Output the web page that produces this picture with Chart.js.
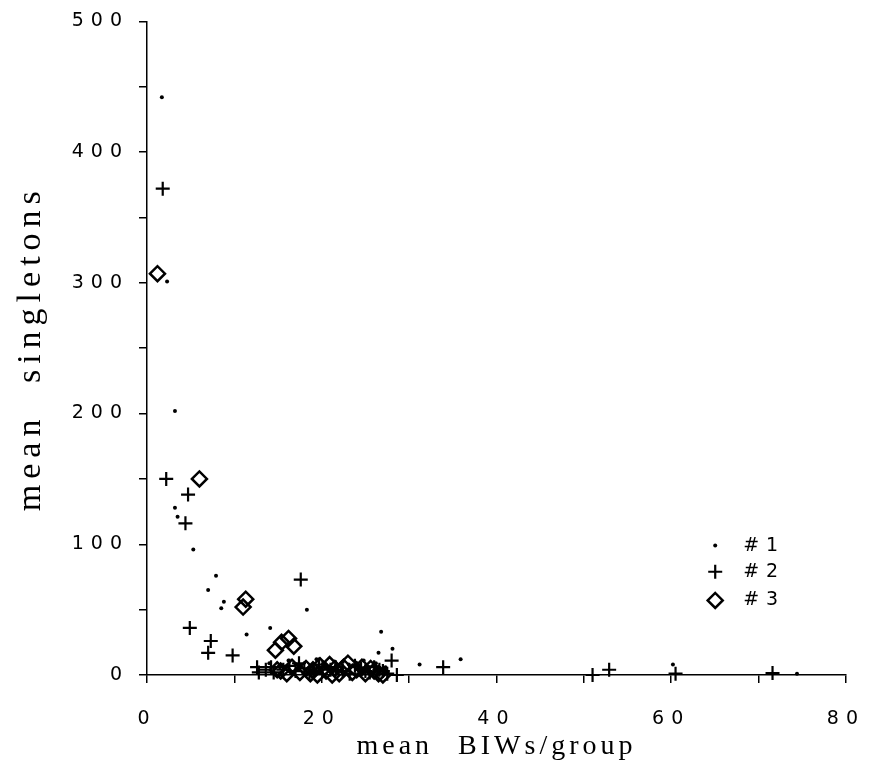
<!DOCTYPE html>
<html><head><meta charset="utf-8">
<style>html,body{margin:0;padding:0;background:#fff}canvas{display:block}</style>
<script src="https://cdn.jsdelivr.net/npm/chart.js@4.4.1/dist/chart.umd.min.js"></script>
</head><body>
<canvas id="c" width="883" height="773"></canvas>
<script>
// ---- data ----
const seriesLabels = ['#1', '#2', '#3'];
const xTitle = 'mean BIWs/group';
const yTitle = 'mean singletons';
const xTickLabels = [0, 20, 40, 60, 80];
const yTickLabels = [0, 100, 200, 300, 400, 500];

const s1x = [1.7, 2.3, 3.2, 3.2, 3.5, 5.3, 7.9, 7.0, 8.8, 8.5, 11.4, 14.1, 18.3, 26.8, 26.5, 28.1, 31.2, 35.9, 74.4, 60.2, 14.0, 15.2, 17.0, 18.6, 20.2, 21.6, 23.1, 24.2, 25.4, 26.2, 16.2, 19.4, 22.4, 24.8, 27.3];
const s1y = [442, 301, 202, 128, 121, 96, 76, 65, 56, 51, 31, 36, 50, 33, 17, 20, 8, 12, 1, 8, 9, 6, 8, 4, 9, 7, 8, 5, 6, 9, 11, 12, 10, 11, 6];

const s2x = [1.8, 2.2, 4.7, 4.4, 4.9, 7.3, 7.0, 9.8, 12.6, 17.6, 28.0, 33.9, 51.0, 52.9, 60.5, 71.6, 12.8, 13.6, 14.5, 15.6, 17.0, 18.0, 19.1, 20.1, 21.0, 22.4, 23.2, 24.5, 25.5, 26.6, 27.5, 28.6, 14.2, 16.3, 18.6, 19.7, 21.6, 23.8, 25.0, 26.0, 27.0, 17.4];
const s2y = [372, 150, 138, 116, 36, 26, 17, 15, 6, 73, 11, 6, 0, 4, 1, 1.5, 2, 4, 2, 4, 3, 5, 2, 6, 4, 3, 1, 5, 2, 4, 1, 0, 6, 7, 1, 8, 6, 7, 3, 6, 3, 9];

const s3x = [1.2, 6.0, 11.3, 11.0, 16.2, 15.4, 16.8, 14.7, 14.9, 16.0, 16.6, 17.5, 19.0, 19.5, 19.8, 20.5, 21.5, 22.0, 22.5, 23.5, 24.0, 25.0, 26.0, 27.0, 15.3, 18.2, 20.9, 23.0, 24.6, 25.6, 26.5, 21.2, 18.7];
const s3y = [307, 150, 58, 52, 28, 25, 22, 19, 4, 1, 6, 2, 4, 0, 7, 3, 5, 1, 6, 2, 4, 1, 3, 0, 3, 5, 8, 9, 6, 5, 1, 0, 1];

const toPts = (xs, ys) => xs.map((x, i) => ({x: x, y: ys[i]}));

const TICK_FONT = {family: 'DejaVu Sans', size: 19, weight: 'normal'};

const spacingPlugin = {
  id: 'spacing',
  beforeDraw(chart) {
    const c = chart.ctx;
    c.save();
    c.fillStyle = '#fff';
    c.fillRect(0, 0, chart.width, chart.height);
    c.restore();
    c.letterSpacing = '4px';
    c.wordSpacing = '14px';
  },
  afterDatasetsDraw(chart) {
    const c = chart.ctx;
    c.letterSpacing = '7px';
    c.wordSpacing = '0px';
  },
  afterDraw(chart) {
    const c = chart.ctx;
    const a = chart.chartArea;
    const w = a.right - a.left, h = a.bottom - a.top;
    const mx = a.left + 0.813 * w;
    const tx = a.left + 0.853 * w;
    const rows = [0.802, 0.842, 0.886];
    chart.data.datasets.forEach((ds, i) => {
      const y = a.top + rows[i] * h;
      c.save();
      c.strokeStyle = '#000';
      c.fillStyle = ds.backgroundColor;
      c.lineWidth = ds.borderWidth;
      Chart.helpers.drawPoint(c, {pointStyle: ds.pointStyle, radius: ds.pointRadius, borderWidth: ds.borderWidth, rotation: 0}, mx, y);
      c.restore();
      c.save();
      c.letterSpacing = '7px';
      c.fillStyle = '#000';
      c.font = 'normal 19px "DejaVu Sans"';
      c.textBaseline = 'middle';
      c.textAlign = 'left';
      c.fillText(ds.label, tx, y);
      c.restore();
    });
    c.letterSpacing = '0px';
    c.wordSpacing = '0px';
  }
};

new Chart(document.getElementById('c'), {
  type: 'scatter',
  data: {
    datasets: [
      {label: seriesLabels[0], data: toPts(s1x, s1y), pointStyle: 'circle', pointRadius: 2, pointHoverRadius: 2,
       backgroundColor: '#000', borderColor: '#000', borderWidth: 0, clip: false},
      {label: seriesLabels[1], data: toPts(s2x, s2y), pointStyle: 'cross', pointRadius: 7, pointHoverRadius: 7,
       backgroundColor: 'rgba(0,0,0,0)', borderColor: '#000', borderWidth: 2.2, clip: false},
      {label: seriesLabels[2], data: toPts(s3x, s3y), pointStyle: 'rectRot', pointRadius: 7.5, pointHoverRadius: 7.5,
       backgroundColor: 'rgba(0,0,0,0)', borderColor: '#000', borderWidth: 2.5, clip: false}
    ]
  },
  options: {
    responsive: false,
    animation: false,
    devicePixelRatio: 1,
    layout: {padding: {left: 10, right: 21, top: 19, bottom: 8}},
    plugins: {legend: {display: false}, tooltip: {enabled: false}},
    scales: {
      x: {
        type: 'linear', min: 0, max: 80,
        afterFit: (s) => { s.height = 90; },
        border: {display: true, color: '#000', width: 1.5},
        grid: {display: true, drawOnChartArea: false, drawTicks: true, tickLength: 8, color: '#000', lineWidth: 1.5},
        ticks: {stepSize: 10, autoSkip: false, maxRotation: 0, padding: 25, z: 1, color: '#000', font: TICK_FONT,
                callback: (v) => xTickLabels.includes(v) ? String(v) : ''},
        title: {display: true, text: xTitle, color: (ctx) => { ctx.chart.ctx.letterSpacing = '4px'; ctx.chart.ctx.wordSpacing = '14px'; return '#000'; },
                font: {family: 'Liberation Serif', size: 28}, padding: {top: 0, bottom: 2}}
      },
      y: {
        type: 'linear', min: 0, max: 500,
        afterFit: (s) => { s.width = 137; },
        border: {display: true, color: '#000', width: 1.5},
        grid: {display: true, drawOnChartArea: false, drawTicks: true, tickLength: 8, color: '#000', lineWidth: 1.5},
        ticks: {stepSize: 50, autoSkip: false, padding: 10, z: 1, color: '#000', font: TICK_FONT,
                callback: (v) => yTickLabels.includes(v) ? String(v) : ''},
        title: {display: true, text: yTitle, color: (ctx) => { ctx.chart.ctx.letterSpacing = '6px'; ctx.chart.ctx.wordSpacing = '16px'; return '#000'; },
                font: {family: 'Liberation Serif', size: 34}, padding: {top: 1, bottom: 0}}
      }
    }
  },
  plugins: [spacingPlugin]
});
</script>
</body></html>
